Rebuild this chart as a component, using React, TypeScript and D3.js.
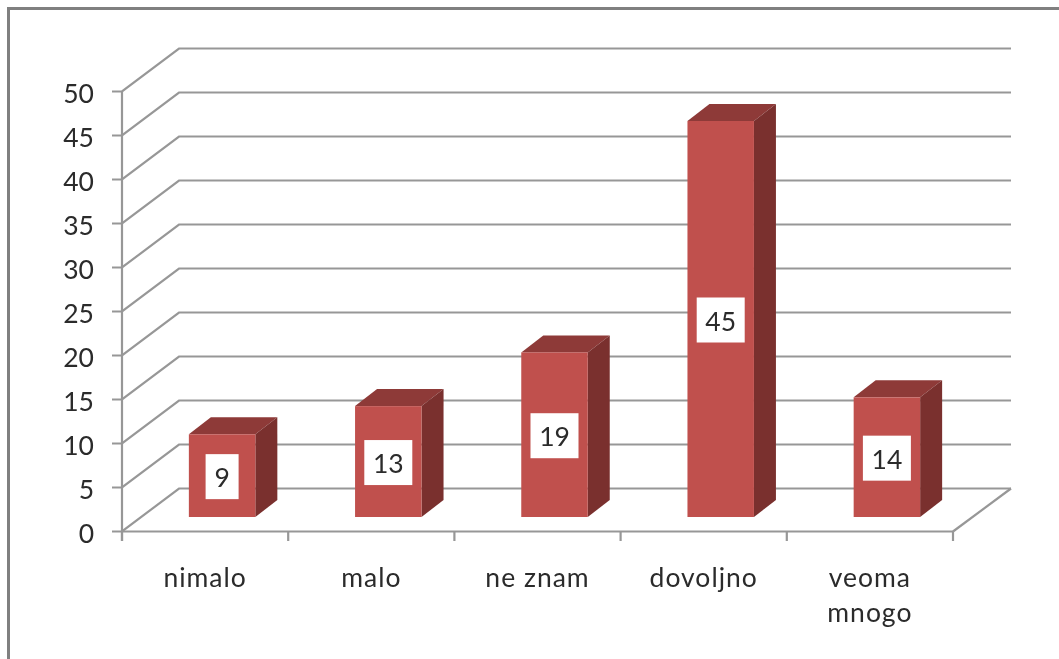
import React from "react";
import * as d3 from "d3";

const categories = ["nimalo", "malo", "ne znam", "dovoljno", "veoma mnogo"];
const values = [9.4, 12.6, 18.7, 45, 13.6];
const yTicks = [0, 5, 10, 15, 20, 25, 30, 35, 40, 45, 50];

const W = 1059, H = 659;
const FONT = "Lato, 'Noto Sans', sans-serif";
const GRID = "#979797";
const TEXT = "#2b2b2b";
const FRONT = "#C0504D", TOP = "#8E3A38", SIDE = "#7A302E";
const FS = 26.5;

const y = d3.scaleLinear().domain([0, 50]).range([531.5, 91.5]);
const x = d3.scaleBand<string>().domain(categories).range([122, 953]);
const wall = { dx: 57, dy: -43 };
const barW = x.bandwidth() * 0.4;
const barShift = { dx: 17, dy: -14.5 };
const barDepth = { dx: 22, dy: -17 };
const fmt = d3.format(".0f");
const poly = (p: number[][]) => p.map((q) => q.join(",")).join(" ");

export default function App() {
  const edges = [...categories.map((c) => x(c)!), 953];
  return (
    <svg width={W} height={H} style={{ position: "absolute", left: 0, top: 0, background: "#fff", filter: "blur(0.5px)" }}>
      <path d={`M8.5 ${H}V8.5H${W}`} fill="none" stroke="#808080" strokeWidth={3} />
      {yTicks.map((t) => (
        <g key={t}>
          <path
            d={`M112 ${y(t)}H122L${122 + wall.dx} ${y(t) + wall.dy}H1011`}
            fill="none"
            stroke={GRID}
            strokeWidth={2.2}
          />
          <text x={94} y={y(t) + 11.5} textAnchor="end" fontFamily={FONT} fontSize={FS} fill={TEXT}>
            {t}
          </text>
        </g>
      ))}
      <path d={`M953 ${y(0)}L1011 ${y(0) + wall.dy}`} fill="none" stroke={GRID} strokeWidth={2.2} />
      <path d={`M122 ${y(50)}V541`} fill="none" stroke={GRID} strokeWidth={2.2} />
      <path d={`M122 ${y(0)}H953`} fill="none" stroke={GRID} strokeWidth={2.2} />
      {edges.map((e) => (
        <path key={e} d={`M${e} ${y(0)}V541`} fill="none" stroke={GRID} strokeWidth={2.2} />
      ))}
      {categories.map((c, i) => {
        const l = x(c)! + (x.bandwidth() - barW) / 2 + barShift.dx;
        const r = l + barW;
        const b = y(0) + barShift.dy;
        const t = y(values[i]) + barShift.dy;
        const { dx, dy } = barDepth;
        const label = fmt(values[i]);
        const boxW = 18 + label.length * 15;
        const cx = (l + r) / 2;
        const cy = (t + b) / 2 + 1;
        return (
          <g key={c}>
            <polygon points={poly([[l, t], [r, t], [r + dx, t + dy], [l + dx, t + dy]])} fill={TOP} />
            <polygon points={poly([[r, t], [r + dx, t + dy], [r + dx, b + dy], [r, b]])} fill={SIDE} />
            <rect x={l} y={t} width={barW} height={b - t} fill={FRONT} />
            <rect x={cx - boxW / 2} y={cy - 22.5} width={boxW} height={45} fill="#fff" />
            <text x={cx} y={cy + 10.5} textAnchor="middle" fontFamily={FONT} fontSize={FS} fill={TEXT}>
              {label}
            </text>
          </g>
        );
      })}
      {categories.map((c) => {
        const cx = x(c)! + x.bandwidth() / 2;
        return (
          <text key={c} textAnchor="middle" fontFamily={FONT} fontSize={FS} letterSpacing={1} fill={TEXT}>
            {(c === "veoma mnogo" ? c.split(" ") : [c]).map((s, j) => (
              <tspan key={s} x={cx} y={587 + j * 35}>
                {s}
              </tspan>
            ))}
          </text>
        );
      })}
    </svg>
  );
}
